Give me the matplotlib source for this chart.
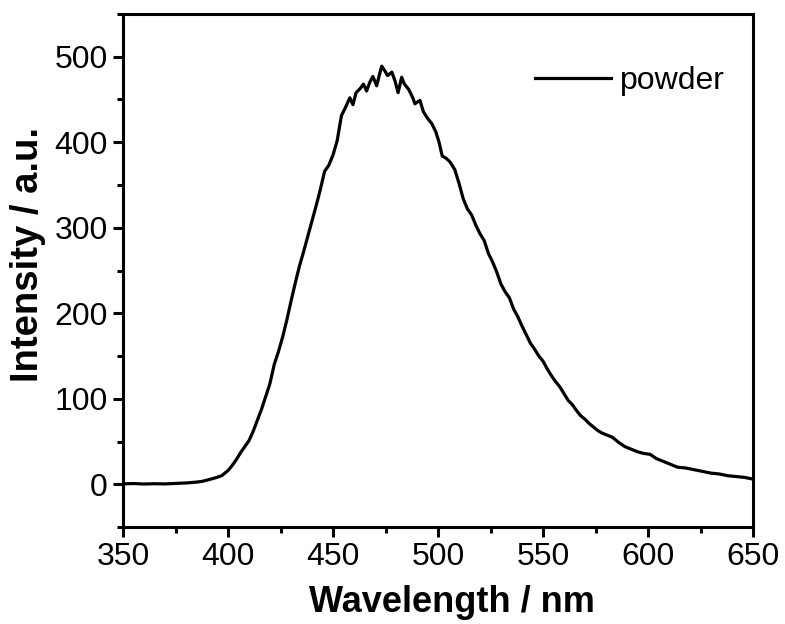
import matplotlib
matplotlib.use("Agg")
import matplotlib.pyplot as plt
from matplotlib.ticker import MultipleLocator

wavelength = [350, 355, 360, 365, 370, 375, 380, 385, 388, 391, 394, 397, 400, 402, 404,
              406, 408, 410, 412, 414, 416, 418, 420, 422, 424, 426, 428, 430, 432, 434,
              436, 438, 440, 442, 444, 446, 448, 450, 452, 454, 456, 458, 459.5, 461, 463,
              464.5, 466, 467.5, 469, 470.8, 472, 473.2, 474.8, 476, 478, 479.5, 481, 482.7,
              484, 486, 488, 489, 491.4, 493, 495, 497, 499, 500.5, 502, 504, 505.7, 508,
              510, 512, 514, 516, 518, 520, 522, 524, 526, 528, 530, 532, 534, 536, 538,
              540, 542, 544, 546, 548, 550, 552, 554, 556, 558, 560, 562, 564, 566, 568,
              570, 572, 574, 576, 578, 580, 583, 586, 589, 592, 595, 598, 601, 604, 607,
              610, 614, 618, 622, 626, 630, 634, 638, 642, 646, 650]
intensity = [0.5, 0.8, 0.3, 0.6, 0.4, 0.9, 1.5, 2.5, 3.5, 5.5, 7.5, 10, 16, 22, 29,
             37, 44, 51, 62, 75, 88, 103, 118, 140, 155, 172, 192, 214, 235, 255,
             272, 290, 308, 326, 345, 366, 373, 385, 402, 431, 441, 452, 444, 458, 463,
             468, 460, 470, 477, 466, 478, 489, 483, 478, 482, 472, 458, 476,
             468, 462, 452, 445, 449, 436, 428, 422, 412, 400, 384, 381, 377, 368,
             352, 334, 322, 315, 303, 293, 285, 270, 260, 248, 234, 225, 218, 205, 196,
             185, 175, 165, 158, 150, 144, 135, 127, 120, 114, 106, 98, 93, 86, 80,
             76, 71, 67, 63, 60, 58, 55, 49, 44, 41, 38, 36, 35, 30, 27,
             24, 20, 19, 17, 15, 13, 12, 10, 9, 8, 6]
series_label = "powder"
x_label = "Wavelength / nm"
y_label = "Intensity / a.u."

plt.rcParams['font.family'] = ['Liberation Sans', 'DejaVu Sans']

fig = plt.figure(figsize=(7.85, 6.24), dpi=100)
ax = fig.add_axes([123/785, 1 - 527/624, 630/785, 513/624])

ax.plot(wavelength, intensity, color='black', lw=2.3, label=series_label)

ax.set_xlim(350, 650)
ax.set_ylim(-50, 550)
ax.xaxis.set_major_locator(MultipleLocator(50))
ax.xaxis.set_minor_locator(MultipleLocator(25))
ax.yaxis.set_major_locator(MultipleLocator(100))
ax.yaxis.set_minor_locator(MultipleLocator(50))

for s in ax.spines.values():
    s.set_linewidth(2.2)
ax.tick_params(which='major', direction='out', length=7, width=2.2, labelsize=23, pad=4)
ax.tick_params(which='minor', direction='out', length=4, width=2.2)

ax.set_xlabel(x_label, fontsize=26, fontweight='bold')
ax.set_ylabel(y_label, fontsize=27.5, fontweight='bold')
ax.xaxis.set_label_coords((452 - 123) / 630, (527 - 585) / 513)
ax.yaxis.set_label_coords((46 - 123) / 630, 1 - (254 - 14) / 513)

ax.legend(loc='center left', bbox_to_anchor=((535 - 123) / 630, 1 - (81 - 14) / 513),
          frameon=False, fontsize=23, handlelength=2.38, handletextpad=0.28,
          borderpad=0, borderaxespad=0)

fig.savefig("out.png", dpi=100)
